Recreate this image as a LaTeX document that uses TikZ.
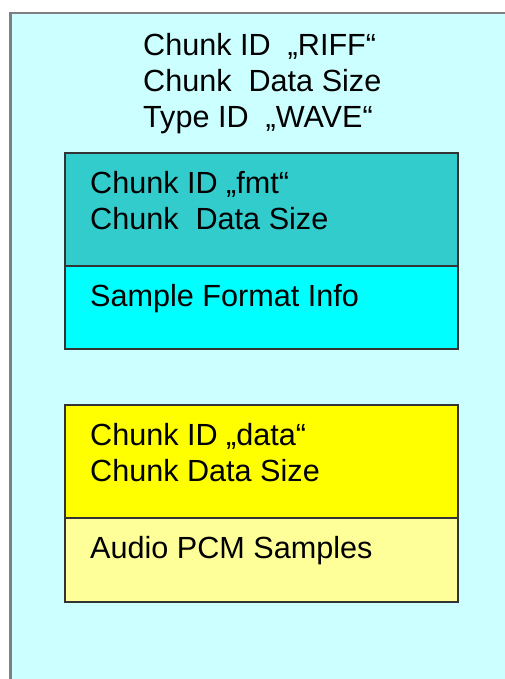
\documentclass[tikz,border=0pt]{standalone}
\usepackage{fontspec}
\setmainfont{Liberation Sans}
\usetikzlibrary{positioning}

\definecolor{riffbg}{HTML}{CCFFFF}
\definecolor{riffline}{HTML}{808080}
\definecolor{fmthead}{HTML}{33CCCC}
\definecolor{fmtbody}{HTML}{00FFFF}
\definecolor{datahead}{HTML}{FFFF00}
\definecolor{databody}{HTML}{FFFF99}

\begin{document}
\begin{tikzpicture}[x=1pt, y=-1pt,
		chunk/.style={draw=black!80, line width=1.5pt, rectangle, anchor=north west,
			inner sep=0pt, outer sep=0pt, minimum width=393pt},
		txt/.style={anchor=north west, inner sep=0pt, align=left,
			font=\fontsize{30.6}{36}\selectfont}]
		\useasboundingbox (0,0) rectangle (505,679);
		\clip (0,0) rectangle (505,679);

		% Nodes
		\node[draw=riffline, fill=riffbg, line width=2.5pt, rectangle, anchor=north west,
			minimum width=530pt, minimum height=700pt] (riff) at (9,12) {};
		\node[chunk, fill=fmthead, minimum height=113pt] (fmthead) at (65,153) {};
		\node[chunk, fill=fmtbody, minimum height=83pt, below=0pt of fmthead] (fmtbody) {};
		\node[chunk, fill=datahead, minimum height=113pt, below=56pt of fmtbody] (datahead) {};
		\node[chunk, fill=databody, minimum height=84pt, below=0pt of datahead] (databody) {};

		% Texts
		\node[txt] (riffid) at (143,33) {Chunk ID~~„RIFF“\\Chunk~~Data Size\\Type ID~~„WAVE“};
		\node[txt] (fmtid) at ([shift={(25,18)}]fmthead.north west) {Chunk ID „fmt“\\Chunk~~Data Size};
		\node[txt] (fmtinfo) at ([shift={(25,18)}]fmtbody.north west) {Sample Format Info};
		\node[txt] (dataid) at ([shift={(25,18)}]datahead.north west) {Chunk ID „data“\\Chunk Data Size};
		\node[txt] (datainfo) at ([shift={(25,18)}]databody.north west) {Audio PCM Samples};
	\end{tikzpicture}
\end{document}
